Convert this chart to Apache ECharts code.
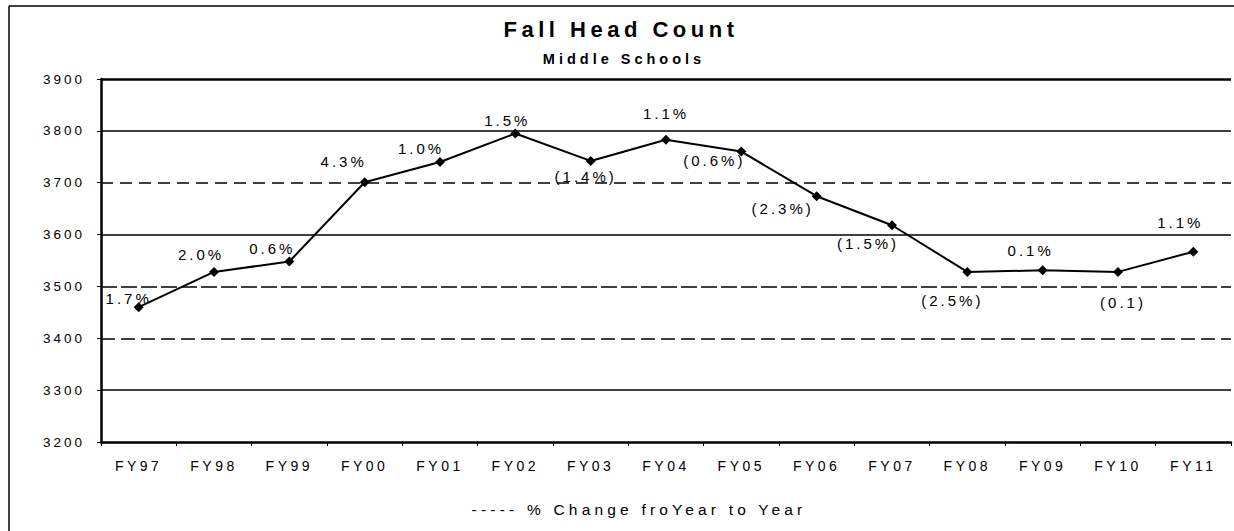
<!DOCTYPE html>
<html><head><meta charset="utf-8">
<script src="https://cdn.jsdelivr.net/npm/echarts@6/dist/echarts.min.js"></script>
<style>
html,body{margin:0;padding:0;background:#fff;}
#c{width:1234px;height:531px;}
#c text{letter-spacing:3px;}
#c text[style*="22px"]{letter-spacing:4.5px;}
#c text[style*="14.5px"]{letter-spacing:4px;}
#c text[style*="13.5px"]{letter-spacing:3px;}
#c text[style*="14px"]{letter-spacing:3.5px;}
#c text[style*="15px"]{letter-spacing:3px;}
#c text[style*="15.5px"]{letter-spacing:4.2px;}
</style></head><body><div id="c"></div>
<script>
// ---- data ----
const categories = ['FY97','FY98','FY99','FY00','FY01','FY02','FY03','FY04','FY05','FY06','FY07','FY08','FY09','FY10','FY11'];
const headCount = [3460, 3528, 3548, 3701, 3740, 3795, 3742, 3783, 3760, 3674, 3618, 3528, 3531, 3528, 3567];
const pctLabels = ['1.7%','2.0%','0.6%','4.3%','1.0%','1.5%','(1.4%)','1.1%','(0.6%)','(2.3%)','(1.5%)','(2.5%)','0.1%','(0.1)','1.1%'];
const yTicks = [3200, 3300, 3400, 3500, 3600, 3700, 3800, 3900];
const titleText = 'Fall Head Count';
const subtitleText = 'Middle Schools';
const noteText = '----- % Change froYear to Year';

// ---- layout / style ----
const labelOffsets = [[-10,-9],[-13,-17],[-17,-13],[-21,-21],[-19,-13],[-8,-13],[-5,16],[0,-26],[-27,9],[-34,12],[-24,18],[-15,29],[-12,-20],[5,31],[-13,-29]];
const gridLineStyle = {
  3300: {type:'solid', width:1.5},
  3400: {type:[14,6], width:1.5},
  3500: {type:[16,4], width:1.5},
  3600: {type:'solid', width:1.5},
  3700: {type:[12,7], width:1.5},
  3800: {type:'solid', width:1.5},
  3900: {type:'solid', width:2.5}
};
const font = 'Arial, "Liberation Sans", sans-serif';

const chart = echarts.init(document.getElementById('c'), null, {renderer:'svg'});
chart.setOption({
  animation: false,
  backgroundColor: '#fff',
  title: [
    {text: titleText, left: 616, top: 13, textAlign: 'center',
     textStyle: {fontFamily: font, fontSize: 22, fontWeight: 'bold', color: '#000'}},
    {text: subtitleText, left: 619, top: 46, textAlign: 'center',
     textStyle: {fontFamily: font, fontSize: 14.5, fontWeight: 'bold', color: '#000'}},
    {text: noteText, left: 634, top: 496, textAlign: 'center',
     textStyle: {fontFamily: font, fontSize: 15.5, fontWeight: 'normal', color: '#000'}}
  ],
  graphic: [
    {type:'line', shape:{x1:9, y1:6, x2:1234, y2:6}, style:{stroke:'#000', lineWidth:1.5}},
    {type:'line', shape:{x1:9, y1:6, x2:9, y2:531}, style:{stroke:'#000', lineWidth:1.5}}
  ],
  grid: {left: 101, right: 3, top: 79, bottom: 89, containLabel: false},
  xAxis: {
    type: 'category', data: categories, boundaryGap: true,
    axisLine: {show: true, lineStyle: {color: '#000', width: 2.5}},
    axisTick: {show: true, length: 4, interval: 0, lineStyle: {color: '#000', width: 1}},
    axisLabel: {interval: 0, margin: 17, fontFamily: font, fontSize: 14, color: '#000'},
    splitLine: {show: false}
  },
  yAxis: {
    type: 'value', min: yTicks[0], max: yTicks[yTicks.length-1], interval: 100,
    axisLine: {show: true, lineStyle: {color: '#000', width: 2.5}},
    axisTick: {show: true, length: 4, lineStyle: {color: '#000', width: 1}},
    axisLabel: {margin: 16, fontFamily: font, fontSize: 13.5, color: '#000',
      formatter: v => String(v)},
    splitLine: {show: false}
  },
  series: [{
    type: 'line',
    data: headCount.map((v, i) => ({value: v, label: {offset: labelOffsets[i]}})),
    symbol: 'diamond', symbolSize: 10,
    itemStyle: {color: '#000'},
    lineStyle: {color: '#000', width: 2},
    label: {show: true, position: 'inside', formatter: p => pctLabels[p.dataIndex],
      fontFamily: font, fontSize: 15, color: '#000'},
    markLine: {
      silent: true, symbol: ['none','none'], label: {show: false},
      data: yTicks.filter(v => gridLineStyle[v]).map(v => ({
        yAxis: v,
        lineStyle: Object.assign({color: '#000'}, gridLineStyle[v])
      }))
    },
    z: 3
  }]
});
</script></body></html>
